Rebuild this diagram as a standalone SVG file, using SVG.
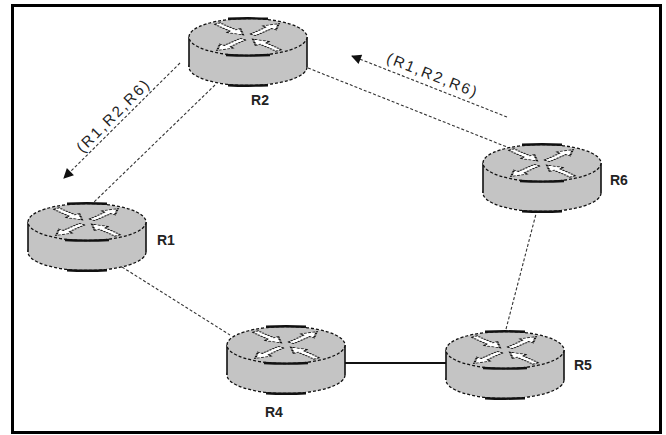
<svg xmlns="http://www.w3.org/2000/svg" width="666" height="435" viewBox="0 0 666 435">
<style>
.frame{fill:#fff;stroke:#000;stroke-width:3}
.body{fill:#c4c4c4;stroke:#111;stroke-width:1.3;stroke-dasharray:3 2}
.side{stroke:#111;stroke-width:1.6}
.edge{fill:none;stroke:#111;stroke-width:2.4}
.arr{fill:#fff;stroke:#111;stroke-width:2.2;stroke-dasharray:3 1.5}
.dash{fill:none;stroke:#333;stroke-width:1.1;stroke-dasharray:3 2}
.solid{fill:none;stroke:#111;stroke-width:1.8}
.lbl{font-family:"Liberation Sans",Arial,sans-serif;font-size:14px;font-weight:bold;fill:#222}
.path{font-family:"Liberation Sans",Arial,sans-serif;font-size:15px;fill:#222;letter-spacing:2.2px}
</style>
<defs>
<marker id="ah" viewBox="0 0 10 10" refX="9" refY="5" markerWidth="12" markerHeight="10" markerUnits="userSpaceOnUse" orient="auto">
<path d="M0,0 L10,5 L0,10 z" fill="#111"/>
</marker>
<polygon id="aout" points="8,-3.5 34,-3.5 34,-9 50,0 34,9 34,3.5 8,3.5"/>
<polygon id="ain" points="50,-3.5 24,-3.5 24,-9 8,0 24,9 24,3.5 50,3.5"/>
<g id="router">
<ellipse class="body" cx="0" cy="15" rx="59" ry="18.5"/>
<rect x="-59" y="-15" width="118" height="30" fill="#c4c4c4"/>
<line class="side" x1="-59" y1="-15" x2="-59" y2="15"/>
<line class="side" x1="59" y1="-15" x2="59" y2="15"/>
<path class="edge" d="M-20,33.2 Q0,34.2 20,33.2"/>
<ellipse class="body" cx="0" cy="-15" rx="59" ry="18.5"/>
<path class="edge" d="M-20,-33.2 Q0,-34.2 20,-33.2"/>
<path class="edge" d="M-22,3 Q0,4.2 22,3"/>
<g transform="translate(0,-15) scale(1,0.34)">
<use href="#aout" class="arr" transform="rotate(-52)"/>
<use href="#aout" class="arr" transform="rotate(128)"/>
<use href="#ain" class="arr" transform="rotate(-128)"/>
<use href="#ain" class="arr" transform="rotate(52)"/>
</g>
</g>
</defs>
<rect class="frame" x="12.5" y="5.5" width="648" height="427"/>
<g id="connectors">
<line class="dash" x1="215" y1="85" x2="93" y2="203"/>
<line class="dash" x1="308" y1="68" x2="507" y2="147"/>
<line class="dash" x1="122" y1="267" x2="230" y2="335"/>
<line class="dash" x1="537" y1="210" x2="505" y2="333"/>
<line class="solid" x1="343" y1="363" x2="447" y2="363"/>
<line class="dash" x1="180" y1="63" x2="64" y2="178" marker-end="url(#ah)"/>
<line class="dash" x1="507" y1="117" x2="352" y2="56" marker-end="url(#ah)"/>
<text class="path" text-anchor="middle" transform="translate(117,119) rotate(-45)">(R1,R2,R6)</text>
<text class="path" text-anchor="middle" transform="translate(431,80) rotate(21.5)">(R1,R2,R6)</text>
</g>
<g id="R2"><use href="#router" x="248" y="52"/><text class="lbl" x="260" y="105" text-anchor="middle">R2</text></g>
<g id="R1"><use href="#router" x="87" y="237"/><text class="lbl" x="157" y="245">R1</text></g>
<g id="R6"><use href="#router" x="542" y="178"/><text class="lbl" x="610" y="185">R6</text></g>
<g id="R4"><use href="#router" x="286" y="360"/><text class="lbl" x="265" y="417">R4</text></g>
<g id="R5"><use href="#router" x="505" y="365"/><text class="lbl" x="574" y="370">R5</text></g>
</svg>
